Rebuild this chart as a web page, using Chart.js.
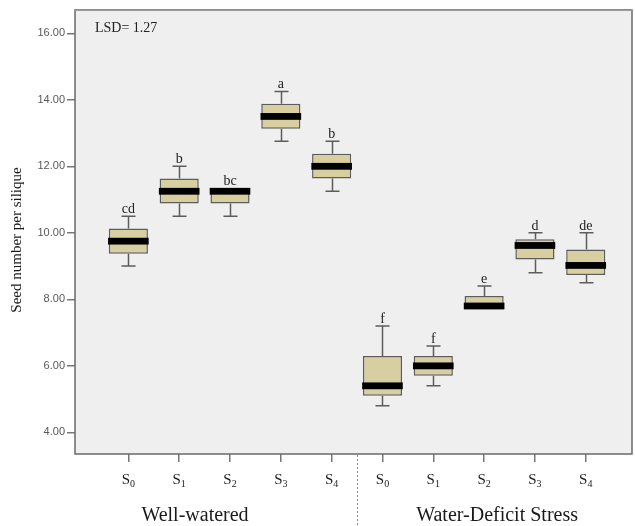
<!DOCTYPE html>
<html>
<head>
<meta charset="utf-8">
<script src="https://cdn.jsdelivr.net/npm/chart.js@4.4.1/dist/chart.umd.min.js"></script>
<style>
  html, body { margin: 0; padding: 0; background: #ffffff; }
  #wrap { width: 635px; height: 526px; }
</style>
</head>
<body>
<div id="wrap"><canvas id="c" width="635" height="526"></canvas></div>
<script>
// Seed number per silique: five treatments under two water regimes
const groups = ['Well-watered', 'Water-Deficit Stress'];
const treatmentBase = ['S', 'S', 'S', 'S', 'S', 'S', 'S', 'S', 'S', 'S'];
const treatmentSub = ['0', '1', '2', '3', '4', '0', '1', '2', '3', '4'];
const whiskerLow  = [9.00, 10.50, 10.50, 12.75, 11.25, 4.80, 5.40, 7.80, 8.80, 8.50];
const quart1      = [9.37, 10.88, 10.88, 13.13, 11.63, 5.10, 5.70, 7.80, 9.20, 8.73];
const medians     = [9.75, 11.25, 11.25, 13.50, 12.00, 5.40, 6.00, 7.80, 9.62, 9.02];
const quart3      = [10.13, 11.63, 11.25, 13.88, 12.38, 6.30, 6.30, 8.10, 9.81, 9.50];
const whiskerHigh = [10.50, 12.00, 11.25, 14.25, 12.75, 7.20, 6.60, 8.40, 10.00, 10.00];
const letters     = ['cd', 'b', 'bc', 'a', 'b', 'f', 'f', 'e', 'd', 'de'];
const yTicks = [4, 6, 8, 10, 12, 14, 16];
const lsdText = 'LSD= 1.27';
const yTitle = 'Seed number per silique';

const SERIF = '"Liberation Serif", "Times New Roman", serif';
const SANS = '"Liberation Sans", Arial, sans-serif';
const EDGE = '#5c5c5c';

const boxes = treatmentSub.map((_, i) => ({ x: i, y: [quart1[i], quart3[i]] }));

const boxPlotPlugin = {
  id: 'boxPlot',
  beforeDraw(chart) {
    const { ctx, chartArea: a } = chart;
    ctx.save();
    ctx.fillStyle = '#efefef';
    ctx.fillRect(a.left, a.top, a.right - a.left, a.bottom - a.top);
    ctx.restore();
  },
  beforeDatasetsDraw(chart) {
    const { ctx, scales: { x, y } } = chart;
    ctx.save();
    ctx.strokeStyle = EDGE;
    ctx.lineWidth = 1.5;
    const cap = 7;
    whiskerLow.forEach((lo, i) => {
      const px = Math.round(x.getPixelForValue(i)) + 0.5;
      const yl = y.getPixelForValue(lo), yh = y.getPixelForValue(whiskerHigh[i]);
      const yq1 = y.getPixelForValue(quart1[i]), yq3 = y.getPixelForValue(quart3[i]);
      ctx.beginPath();
      if (whiskerHigh[i] > quart3[i]) {
        ctx.moveTo(px, yq3); ctx.lineTo(px, yh);
        ctx.moveTo(px - cap, yh); ctx.lineTo(px + cap, yh);
      }
      if (lo < quart1[i]) {
        ctx.moveTo(px, yq1); ctx.lineTo(px, yl);
        ctx.moveTo(px - cap, yl); ctx.lineTo(px + cap, yl);
      }
      ctx.stroke();
    });
    ctx.restore();
  },
  afterDatasetsDraw(chart) {
    const { ctx, scales: { x, y } } = chart;
    const meta = chart.getDatasetMeta(0);
    ctx.save();
    medians.forEach((m, i) => {
      const bar = meta.data[i];
      const w = bar.width + 1.5;
      const py = y.getPixelForValue(m);
      ctx.fillStyle = '#000000';
      ctx.fillRect(bar.x - w / 2, py - 3.4, w, 6.8);
    });
    ctx.fillStyle = '#222222';
    ctx.font = '14px ' + SERIF;
    ctx.textAlign = 'center';
    ctx.textBaseline = 'alphabetic';
    letters.forEach((t, i) => {
      const px = x.getPixelForValue(i);
      const top = Math.min(y.getPixelForValue(whiskerHigh[i]), y.getPixelForValue(quart3[i]) - 3);
      ctx.fillText(t, px, top - 3);
    });
    ctx.restore();
  },
  afterDraw(chart) {
    const { ctx, chartArea: a, scales: { x } } = chart;
    ctx.save();
    // frame
    ctx.strokeStyle = '#6a6a6a';
    ctx.lineWidth = 1.5;
    ctx.strokeRect(a.left, a.top, a.right - a.left, a.bottom - a.top);
    ctx.strokeStyle = '#9a9a9a';
    ctx.lineWidth = 1;
    ctx.beginPath();
    ctx.moveTo(a.left, a.top + 0.5); ctx.lineTo(a.right, a.top + 0.5);
    ctx.stroke();

    // LSD note
    ctx.fillStyle = '#222222';
    ctx.font = '14px ' + SERIF;
    ctx.textAlign = 'left';
    ctx.textBaseline = 'middle';
    ctx.fillText(lsdText, a.left + 20, 28);

    // treatment labels with subscripts
    treatmentBase.forEach((b, i) => {
      const px = x.getPixelForValue(i);
      ctx.font = '15px ' + SERIF;
      const wb = ctx.measureText(b).width;
      ctx.font = '10px ' + SERIF;
      const ws = ctx.measureText(treatmentSub[i]).width;
      const start = px - (wb + ws) / 2;
      ctx.textAlign = 'left';
      ctx.textBaseline = 'alphabetic';
      ctx.font = '15px ' + SERIF;
      ctx.fillText(b, start, 484);
      ctx.font = '10px ' + SERIF;
      ctx.fillText(treatmentSub[i], start + wb, 487);
    });

    // group divider
    const divX = Math.round((x.getPixelForValue(4) + x.getPixelForValue(5)) / 2) + 0.5;
    ctx.strokeStyle = '#8a8a8a';
    ctx.lineWidth = 1;
    ctx.setLineDash([2, 2]);
    ctx.beginPath();
    ctx.moveTo(divX, a.bottom + 1); ctx.lineTo(divX, chart.height);
    ctx.stroke();
    ctx.setLineDash([]);

    // group names
    ctx.font = '20px ' + SERIF;
    ctx.textAlign = 'center';
    ctx.textBaseline = 'middle';
    ctx.fillStyle = '#1a1a1a';
    ctx.fillText(groups[0], x.getPixelForValue(2) - 35, 516);
    ctx.fillText(groups[1], x.getPixelForValue(7) + 13, 516);

    // y axis title
    ctx.font = '15px ' + SERIF;
    ctx.translate(17, (a.top + a.bottom) / 2 + 8);
    ctx.rotate(-Math.PI / 2);
    ctx.fillText(yTitle, 0, 0);
    ctx.restore();
  }
};

new Chart(document.getElementById('c'), {
  type: 'bar',
  data: {
    datasets: [{
      data: boxes,
      backgroundColor: '#d7cf9f',
      borderColor: EDGE,
      borderWidth: 1.5,
      borderSkipped: false,
      barPercentage: 0.77,
      categoryPercentage: 1
    }]
  },
  options: {
    responsive: false,
    animation: false,
    devicePixelRatio: 1,
    layout: { padding: { top: 10, right: 3, left: 0, bottom: 0 } },
    plugins: { legend: { display: false }, tooltip: { enabled: false } },
    scales: {
      x: {
        type: 'linear',
        offset: false,
        min: -1.05,
        max: 9.91,
        afterBuildTicks: s => { s.ticks = treatmentSub.map((_, i) => ({ value: i })); },
        afterFit: s => { s.height = 72; },
        ticks: { display: false },
        grid: { offset: false, drawOnChartArea: false, drawTicks: true, tickLength: 8, color: '#777777', lineWidth: 1.5 },
        border: { display: false }
      },
      y: {
        min: 3.35,
        max: 16.7,
        afterBuildTicks: s => { s.ticks = yTicks.map(v => ({ value: v })); },
        afterFit: s => { s.width = 75; },
        ticks: {
          callback: v => Number(v).toFixed(2),
          font: { family: SANS, size: 11 },
          color: '#585858',
          padding: 2
        },
        grid: { drawOnChartArea: false, drawTicks: true, tickLength: 8, color: '#777777', lineWidth: 1.5 },
        border: { display: false }
      }
    }
  },
  plugins: [boxPlotPlugin]
});
</script>
</body>
</html>
